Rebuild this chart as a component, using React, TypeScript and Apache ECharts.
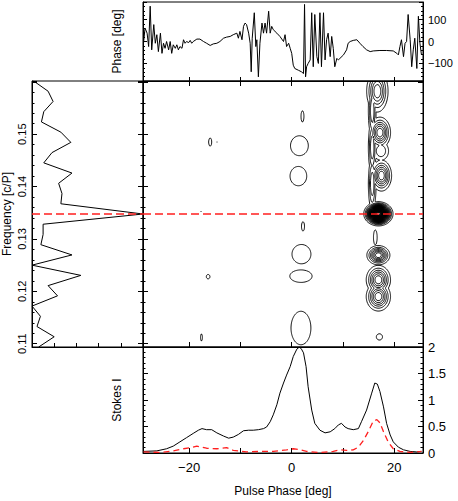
import React, { useEffect, useRef } from 'react';
import * as echarts from 'echarts';

// ---------------- data ----------------
const PHASE_MIN = -29;
const PHASE_MAX = 25.6;
const FFT_LENGTH = 512;

// top panel: phase [deg] vs pulse phase [deg]
const phaseSamples: [number, number][] = [
  [-28.9, -8], [-28.6, 61], [-28.2, 38], [-27.9, -23], [-27.6, 161], [-27.3, -38], [-26.9, 77], [-26.6, -8],
  [-26.3, 31], [-26.0, -46], [-25.6, 38], [-25.3, -54], [-25.0, -8], [-24.7, -31], [-24.4, 0], [-24.0, -38],
  [-23.7, 0], [-23.4, -54], [-23.1, -15], [-22.7, -31], [-22.4, -15], [-22.1, -38], [-21.8, -23], [-21.4, -31],
  [-21.1, 8], [-20.8, -8], [-20.5, 0], [-20.1, -5], [-19.8, 5], [-19.5, -8], [-19.2, 0], [-18.5, 11],
  [-17.9, 11], [-17.2, 0], [-16.6, -8], [-15.9, -18], [-15.3, -11], [-14.6, -8], [-14.0, 0], [-13.3, 15],
  [-12.7, 20], [-12.0, 23], [-11.4, 31], [-10.7, 38], [-10.4, 15], [-10.1, 46], [-9.7, 8], [-9.4, 69],
  [-9.1, 84], [-8.8, 77], [-8.4, 38], [-8.1, -8], [-7.9, -138], [-7.7, 15], [-7.3, 131], [-7.0, -23],
  [-6.8, 8], [-6.5, -161], [-6.2, -8], [-5.8, 84], [-5.5, 38], [-5.2, 84], [-4.9, 38], [-4.5, 138],
  [-4.2, 38], [-3.9, 69], [-3.6, 54], [-2.9, 38], [-2.3, 23], [-1.6, 0], [-1.3, 31], [-1.0, -23],
  [-0.6, -8], [-0.3, -31], [0.0, -54], [0.3, -108], [0.6, -123], [1.3, -131], [1.9, -138], [2.3, -146],
  [2.5, 169], [2.7, -161], [2.9, -115], [3.2, -100], [3.6, -84], [3.9, 131], [4.2, -115], [4.5, 123],
  [4.9, -69], [5.2, -100], [5.5, 131], [5.8, -115], [6.2, 131], [6.5, -84], [6.8, 8], [7.1, 38],
  [7.5, -69], [7.8, 23], [8.1, -31], [8.4, -115], [8.8, -77], [9.1, -84], [9.4, -77], [10.1, -61],
  [10.7, -38], [11.0, -8], [11.4, 0], [12.0, 5], [12.7, 8], [13.3, -8], [13.9, -23], [14.6, -38],
  [15.3, -46], [15.9, -43], [17.2, -41], [18.5, -41], [19.8, -43], [20.5, -54], [20.8, -61], [21.1, -23],
  [21.4, 8], [21.8, -69], [22.1, -8], [22.4, 0], [22.7, 123], [23.1, 8], [23.4, -115], [23.7, -38],
  [24.0, 15], [24.4, -123], [24.7, 115], [25.0, -8], [25.3, -61],
];

// left panel: fluctuation power per frequency bin (bin / FFT_LENGTH = c/P)
const specBins = [56, 57, 58, 59, 60, 61, 62, 63, 64, 65, 66, 67, 68, 69, 70, 71, 72, 73, 74, 75, 76, 77, 78, 79, 80, 81, 82];
const specPower = [0.06, 0.2, 0.045, 0.076, 0.0, 0.23, 0.145, 0.44, 0.0, 0.36, 0.08, 0.1, 0.1, 1.0, 0.26, 0.27, 0.24, 0.36, 0.106, 0.18, 0.35, 0.26, 0.085, 0.106, 0.19, 0.145, 0.015];
const markedBin = 69;

// bottom panel: Stokes I and linear polarisation
const stokesI: [number, number][] = [
  [-28.9, 0.03], [-26.3, 0.04], [-24.4, 0.08], [-23.1, 0.13], [-21.8, 0.21], [-20.5, 0.29], [-19.2, 0.37],
  [-18.2, 0.43], [-17.5, 0.46], [-16.6, 0.44], [-15.6, 0.44], [-14.6, 0.38], [-13.3, 0.32], [-12.3, 0.28],
  [-11.4, 0.3], [-10.4, 0.35], [-9.4, 0.42], [-8.4, 0.43], [-7.5, 0.43], [-6.5, 0.44], [-5.5, 0.46],
  [-4.9, 0.49], [-4.2, 0.59], [-3.6, 0.72], [-2.9, 0.91], [-2.3, 1.13], [-1.6, 1.32], [-1.0, 1.47],
  [-0.3, 1.63], [0.3, 1.82], [1.0, 1.96], [1.5, 2.0], [1.9, 1.96], [2.3, 1.89], [2.8, 1.63], [3.2, 1.25],
  [3.9, 0.81], [4.5, 0.56], [5.5, 0.43], [6.5, 0.38], [7.5, 0.4], [8.4, 0.46], [9.1, 0.53], [9.7, 0.56],
  [10.4, 0.49], [11.0, 0.46], [12.0, 0.44], [13.0, 0.46], [13.6, 0.59], [14.6, 0.81], [15.6, 1.13],
  [16.2, 1.32], [16.7, 1.3], [17.2, 1.16], [17.9, 0.87], [18.5, 0.56], [19.2, 0.34], [19.8, 0.21],
  [20.8, 0.11], [21.8, 0.06], [23.1, 0.03], [24.4, 0.02], [25.3, 0.03],
];
const linearPol: [number, number][] = [
  [-28.9, 0.02], [-25.6, 0.01], [-23.1, 0.04], [-21.1, 0.08], [-19.8, 0.1], [-18.5, 0.13], [-17.5, 0.11],
  [-16.6, 0.09], [-14.6, 0.08], [-12.7, 0.1], [-11.4, 0.05], [-8.8, 0.02], [-6.2, 0.03], [-3.6, 0.03],
  [-1.0, 0.06], [0.3, 0.08], [1.6, 0.06], [2.9, 0.03], [5.5, 0.01], [8.1, 0.03], [9.4, 0.06], [10.7, 0.05],
  [12.0, 0.06], [13.0, 0.11], [14.0, 0.24], [14.9, 0.4], [15.9, 0.6], [16.6, 0.63], [17.2, 0.57],
  [17.9, 0.4], [18.8, 0.21], [19.8, 0.08], [21.1, 0.03], [23.1, 0.01], [25.3, 0.03],
];

// main panel: 2D spectrum described by the features seen in the contour map
const blobPhase = [16.9, 16.9, 16.9, 16.9, 17.1, 16.7, 17.2, 17.4, 17.5, 15.7, 15.7, 15.7, 16.3, 2.1, 1.5, 1.3, 2.2, 1.9, 1.8, 1.8, -15.9, -16.3, -17.6, -17.7, -17.6, -14.6];
const blobFreq = [0.1348, 0.1269, 0.1222, 0.119, 0.1113, 0.1582, 0.1503, 0.1468, 0.1421, 0.1545, 0.1475, 0.1405, 0.1303, 0.1534, 0.1478, 0.142, 0.1324, 0.1271, 0.1229, 0.113, 0.1485, 0.1228, 0.1112, 0.1352, 0.1485, 0.1485];
const blobPeak = [40, 8, 7, 7, 1.2, 6, 7, 3, 7, 4, 4, 4, 1.5, 1.3, 1.8, 1.8, 1.2, 1.8, 1.8, 1.6, 1.2, 1.2, 1.1, 1.03, 1.03, 1.03];
const blobSpreadPhase = [1.05, 1.1, 1.2, 1.2, 1.0, 1.1, 1.05, 1.0, 1.0, 0.45, 0.45, 0.45, 0.4, 0.4, 1.6, 1.5, 0.5, 1.7, 2.0, 2.0, 0.5, 0.6, 0.45, 0.3, 0.3, 0.3];
const blobSpreadFreq = [0.00085, 0.0009, 0.0014, 0.0014, 0.001, 0.0021, 0.0015, 0.0012, 0.0015, 0.003, 0.003, 0.003, 0.0016, 0.0015, 0.00175, 0.0017, 0.0015, 0.0017, 0.0011, 0.0033, 0.0013, 0.0007, 0.0016, 0.0004, 0.0004, 0.0004];
const contourLevels = [1, 2, 3, 4, 5, 6, 7, 8, 9, 10, 11, 12, 13, 14, 15, 16, 17, 18, 19, 20, 21, 22, 23, 24, 25, 26, 27, 28, 29, 30, 31, 32, 33, 34, 35, 36, 37, 38];

// ---------------- helpers ----------------
const FREQ_MIN = specBins[0] / FFT_LENGTH;
const FREQ_MAX = specBins[specBins.length - 1] / FFT_LENGTH;
const MARK_FREQ = markedBin / FFT_LENGTH;
const FONT = '"Liberation Sans", Arial, Helvetica, sans-serif';
const BLACK = '#000';
const RED = '#ff1f1f';

function field(x: number, f: number) {
  let v = 0;
  for (let k = 0; k < blobPhase.length; k++) {
    const dx = (x - blobPhase[k]) / blobSpreadPhase[k];
    const df = (f - blobFreq[k]) / blobSpreadFreq[k];
    const val = blobPeak[k] * Math.exp(-0.5 * (dx * dx + df * df));
    if (val > v) v = val;
  }
  return v;
}

function computeContours(): number[][] {
  const nx = 300, ny = 280;
  const xs: number[] = [], ys: number[] = [];
  for (let i = 0; i < nx; i++) xs.push(PHASE_MIN + ((PHASE_MAX - PHASE_MIN) * i) / (nx - 1));
  for (let j = 0; j < ny; j++) ys.push(FREQ_MIN + ((FREQ_MAX - FREQ_MIN) * j) / (ny - 1));
  const g = new Float64Array(nx * ny);
  for (let j = 0; j < ny; j++) for (let i = 0; i < nx; i++) g[j * nx + i] = field(xs[i], ys[j]);
  const table: Record<number, number[][]> = {
    1: [[3, 0]], 2: [[0, 1]], 3: [[3, 1]], 4: [[1, 2]], 5: [[0, 1], [2, 3]], 6: [[0, 2]], 7: [[3, 2]],
    8: [[2, 3]], 9: [[0, 2]], 10: [[3, 0], [1, 2]], 11: [[1, 2]], 12: [[1, 3]], 13: [[0, 1]], 14: [[3, 0]],
  };
  return contourLevels.map((L) => {
    const out: number[] = [];
    for (let j = 0; j < ny - 1; j++) {
      for (let i = 0; i < nx - 1; i++) {
        const v0 = g[j * nx + i], v1 = g[j * nx + i + 1], v2 = g[(j + 1) * nx + i + 1], v3 = g[(j + 1) * nx + i];
        const idx = (v0 > L ? 1 : 0) | (v1 > L ? 2 : 0) | (v2 > L ? 4 : 0) | (v3 > L ? 8 : 0);
        if (idx === 0 || idx === 15) continue;
        const x0 = xs[i], x1 = xs[i + 1], y0 = ys[j], y1 = ys[j + 1];
        const e = (k: number): [number, number] => {
          if (k === 0) return [x0 + ((L - v0) / (v1 - v0)) * (x1 - x0), y0];
          if (k === 1) return [x1, y0 + ((L - v1) / (v2 - v1)) * (y1 - y0)];
          if (k === 2) return [x0 + ((L - v3) / (v2 - v3)) * (x1 - x0), y1];
          return [x0, y0 + ((L - v0) / (v3 - v0)) * (y1 - y0)];
        };
        for (const [a, b] of table[idx]) {
          const p = e(a), q = e(b);
          out.push(p[0], p[1], q[0], q[1]);
        }
      }
    }
    return out;
  });
}

const signed = (v: number) => (v < 0 ? '\u2212' + String(-v) : String(v));
const tickLine = { color: BLACK, width: 1 };

function axisBase(extra: any) {
  return {
    type: 'value',
    axisLine: { show: true, onZero: false, lineStyle: { color: BLACK, width: 1 } },
    splitLine: { show: false },
    axisLabel: { show: false },
    ...extra,
  };
}
function phaseX(gridIndex: number, position: string, extra: any = {}) {
  return axisBase({
    gridIndex, position, min: PHASE_MIN, max: PHASE_MAX, splitNumber: 5,
    axisTick: { show: true, inside: true, length: 5, lineStyle: tickLine },
    ...extra,
  });
}
function freqY(gridIndex: number, position: string, extra: any = {}) {
  return axisBase({
    gridIndex, position, min: FREQ_MIN, max: FREQ_MAX, splitNumber: 5,
    axisTick: { show: true, inside: true, length: 5, lineStyle: tickLine },
    minorTick: { show: true, splitNumber: 5, length: 2.5, lineStyle: tickLine },
    ...extra,
  });
}

function buildOption(): any {
  const paths = computeContours();
  const gridStyle = { show: true, borderColor: BLACK, borderWidth: 1, backgroundColor: 'transparent', containLabel: false };
  const nameStyle = { color: BLACK, fontSize: 12, fontFamily: FONT };
  return {
    animation: false,
    backgroundColor: '#fff',
    textStyle: { fontFamily: FONT },
    grid: [
      { ...gridStyle, left: 143, top: 2, width: 280, height: 79 },
      { ...gridStyle, left: 32, top: 81, width: 111, height: 266 },
      { ...gridStyle, left: 143, top: 81, width: 280, height: 266 },
      { ...gridStyle, left: 143, top: 347, width: 280, height: 106 },
    ],
    xAxis: [
      phaseX(0, 'bottom', { axisTick: { show: true, inside: true, length: 4, lineStyle: tickLine } }),
      axisBase({ gridIndex: 1, position: 'bottom', min: 0, max: 1, axisTick: { show: true, inside: true, length: 4, lineStyle: tickLine } }),
      phaseX(2, 'bottom'),
      phaseX(2, 'top'),
      phaseX(3, 'bottom', {
        axisLabel: {
          show: true, color: BLACK, fontSize: 13, fontFamily: FONT, margin: 8,
          showMinLabel: false, showMaxLabel: false,
          formatter: (v: number) => (Math.abs(v % 20) < 1e-6 ? signed(v) : ''),
        },
        name: 'Pulse Phase [deg]', nameLocation: 'middle', nameGap: 32, nameTextStyle: nameStyle,
      }),
    ],
    yAxis: [
      axisBase({
        gridIndex: 0, position: 'left', min: -180, max: 180, splitNumber: 5,
        axisTick: { show: true, inside: true, length: 4, lineStyle: tickLine },
        minorTick: { show: true, splitNumber: 5, length: 2, lineStyle: tickLine },
        name: 'Phase [deg]', nameLocation: 'middle', nameRotate: 90, nameGap: 20, nameTextStyle: nameStyle,
      }),
      axisBase({
        gridIndex: 0, position: 'right', min: -180, max: 180, splitNumber: 5,
        axisTick: { show: true, inside: true, length: 4, lineStyle: tickLine },
        minorTick: { show: true, splitNumber: 5, length: 2, lineStyle: tickLine },
        axisLabel: { show: true, color: BLACK, fontSize: 11, fontFamily: FONT, margin: 5, showMinLabel: false, showMaxLabel: false, formatter: signed },
      }),
      freqY(1, 'left', {
        axisLabel: {
          show: true, rotate: 90, color: BLACK, fontSize: 11, fontFamily: FONT, margin: 5,
          showMinLabel: false, showMaxLabel: false,
          formatter: (v: number) => (v > 0.155 ? '' : v.toFixed(2)),
        },
        name: 'Frequency [c/P]', nameLocation: 'middle', nameRotate: 90, nameGap: 19, nameTextStyle: nameStyle,
      }),
      freqY(1, 'right'),
      freqY(2, 'left'),
      freqY(2, 'right'),
      axisBase({
        gridIndex: 3, position: 'left', min: 0, max: 2, splitNumber: 4,
        axisTick: { show: true, inside: true, length: 5, lineStyle: tickLine },
        minorTick: { show: true, splitNumber: 5, length: 2.5, lineStyle: tickLine },
        name: 'Stokes I', nameLocation: 'middle', nameRotate: 90, nameGap: 20, nameTextStyle: nameStyle,
      }),
      axisBase({
        gridIndex: 3, position: 'right', min: 0, max: 2, splitNumber: 4,
        axisTick: { show: true, inside: true, length: 5, lineStyle: tickLine },
        minorTick: { show: true, splitNumber: 5, length: 2.5, lineStyle: tickLine },
        axisLabel: { show: true, color: BLACK, fontSize: 13, fontFamily: FONT, margin: 5, formatter: (v: number) => String(v) },
      }),
    ],
    series: [
      {
        type: 'line', xAxisIndex: 0, yAxisIndex: 0, data: phaseSamples, showSymbol: false, symbol: 'none',
        lineStyle: { color: BLACK, width: 1 }, z: 3,
      },
      {
        type: 'line', xAxisIndex: 1, yAxisIndex: 2, showSymbol: false, symbol: 'none',
        data: specBins.map((b, i) => [specPower[i], b / FFT_LENGTH]),
        lineStyle: { color: BLACK, width: 1 }, z: 3,
      },
      {
        type: 'line', xAxisIndex: 1, yAxisIndex: 2, showSymbol: false, symbol: 'none',
        data: [[0, MARK_FREQ], [1, MARK_FREQ]],
        lineStyle: { color: RED, width: 1.3, type: [8, 4] }, z: 5,
      },
      {
        type: 'custom', xAxisIndex: 2, yAxisIndex: 4, clip: true, silent: true, z: 2,
        data: contourLevels.map((lv, i) => [0, MARK_FREQ, i]),
        encode: { x: 0, y: 1 },
        renderItem: (params: any, api: any) => {
          const segs = paths[params.dataIndex];
          let d = '';
          for (let k = 0; k < segs.length; k += 4) {
            const p = api.coord([segs[k], segs[k + 1]]);
            const q = api.coord([segs[k + 2], segs[k + 3]]);
            d += 'M' + p[0].toFixed(2) + ' ' + p[1].toFixed(2) + 'L' + q[0].toFixed(2) + ' ' + q[1].toFixed(2);
          }
          if (!d) return { type: 'group', children: [] };
          return { type: 'path', shape: { pathData: d }, style: { stroke: BLACK, fill: 'none', lineWidth: 0.95 } };
        },
      },
      {
        type: 'line', xAxisIndex: 2, yAxisIndex: 4, showSymbol: false, symbol: 'none',
        data: [[PHASE_MIN, MARK_FREQ], [PHASE_MAX, MARK_FREQ]],
        lineStyle: { color: RED, width: 1.3, type: [8, 4] }, z: 5,
      },
      {
        type: 'line', xAxisIndex: 4, yAxisIndex: 6, data: stokesI, showSymbol: false, symbol: 'none',
        lineStyle: { color: BLACK, width: 1 }, z: 3,
      },
      {
        type: 'line', xAxisIndex: 4, yAxisIndex: 6, data: linearPol, showSymbol: false, symbol: 'none',
        lineStyle: { color: RED, width: 1.3, type: [6, 4] }, z: 4,
      },
    ],
  };
}

export default function App() {
  const ref = useRef<HTMLDivElement>(null);
  useEffect(() => {
    if (!ref.current) return;
    const chart = echarts.init(ref.current, null, { renderer: 'svg' });
    chart.setOption(buildOption());
    return () => chart.dispose();
  }, []);
  return <div ref={ref} style={{ position: 'absolute', left: 0, top: 0, width: 458, height: 501 }} />;
}
